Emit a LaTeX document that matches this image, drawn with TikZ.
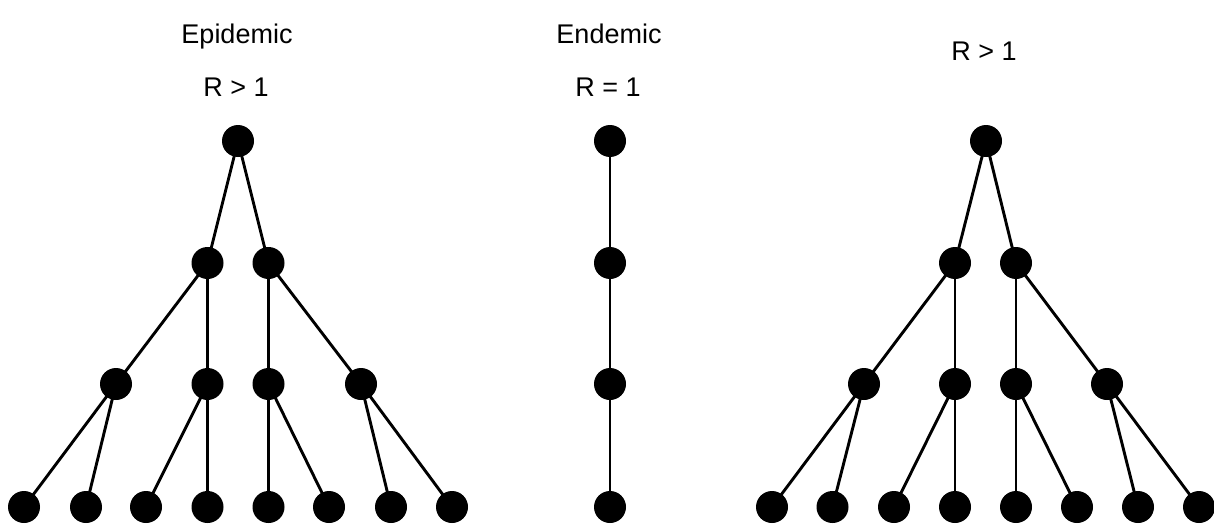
\documentclass[tikz,border=0pt]{standalone}
\usepackage{fontspec}
\setmainfont{Liberation Sans}
\begin{document}
\begin{tikzpicture}[x=1pt,y=-1pt,
  dot/.style={circle,fill=black,inner sep=0pt,minimum size=32pt},
  link/.style={line width=2.9pt},
  caption/.style={anchor=base,inner sep=0pt,font=\fontsize{27}{30}\selectfont}]
\useasboundingbox (0,0) rectangle (1214,524);

% headings
\node[caption] (tEpi) at (237,44) {Epidemic};
\node[caption] (rEpi) at (236,96) {R > 1};
\node[caption] (tEnd) at (609,44) {Endemic};
\node[caption] (rEnd) at (608,96) {R = 1};
\node[caption] (rRight) at (984,61) {R > 1};

% left tree
\node[dot] (a) at (238,141) {};
\node[dot] (a1) at (207.5,263) {};
\node[dot] (a2) at (268.5,263) {};
\node[dot] (a11) at (116,384) {};
\node[dot] (a12) at (207.5,384) {};
\node[dot] (a21) at (268.5,384) {};
\node[dot] (a22) at (361,384) {};
\node[dot] (a111) at (24,507) {};
\node[dot] (a112) at (86,507) {};
\node[dot] (a121) at (146,507) {};
\node[dot] (a122) at (207.5,507) {};
\node[dot] (a211) at (268.5,507) {};
\node[dot] (a212) at (329,507) {};
\node[dot] (a221) at (391,507) {};
\node[dot] (a222) at (452,507) {};

% middle chain
\node[dot] (m1) at (610,141) {};
\node[dot] (m2) at (610,263) {};
\node[dot] (m3) at (610,384) {};
\node[dot] (m4) at (610,507) {};

% right tree
\node[dot] (b) at (986,141) {};
\node[dot] (b1) at (955,263) {};
\node[dot] (b2) at (1016,263) {};
\node[dot] (b11) at (864,384) {};
\node[dot] (b12) at (955,384) {};
\node[dot] (b21) at (1016,384) {};
\node[dot] (b22) at (1107,384) {};
\node[dot] (b111) at (772,507) {};
\node[dot] (b112) at (832.5,507) {};
\node[dot] (b121) at (894,507) {};
\node[dot] (b122) at (955,507) {};
\node[dot] (b211) at (1016,507) {};
\node[dot] (b212) at (1077,507) {};
\node[dot] (b221) at (1138,507) {};
\node[dot] (b222) at (1199,507) {};

% edges of both trees, parent to child
\foreach \t in {a,b}{
  \draw[link] (\t.center) -- (\t1.center);
  \draw[link] (\t.center) -- (\t2.center);
  \foreach \i in {1,2}{
    \draw[link] (\t\i.center) -- (\t\i1.center);
    \draw[link] (\t\i.center) -- (\t\i2.center);
    \foreach \j in {1,2}{
      \draw[link] (\t\i\j.center) -- (\t\i\j1.center);
      \draw[link] (\t\i\j.center) -- (\t\i\j2.center);
    }
  }
}
\draw[link] (m1.center) -- (m2.center) -- (m3.center) -- (m4.center);
\end{tikzpicture}
\end{document}
